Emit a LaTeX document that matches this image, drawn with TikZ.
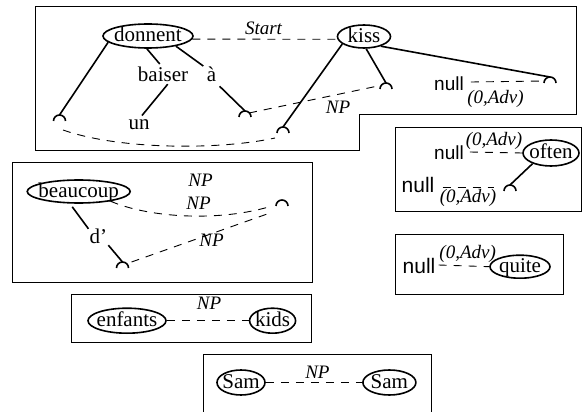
\documentclass[tikz,border=0pt]{standalone}
\usepackage{fontspec}
\setmainfont{Liberation Serif}
\newfontfamily\nullsans{Liberation Sans}
\usetikzlibrary{shapes.geometric}
\newcommand\hk[1]{\draw[hookline] (#1) ++(-6pt,-6pt) arc[start angle=180,end angle=0,x radius=6pt,y radius=6pt];}
\newcommand\ew[1]{\makebox[0pt]{#1}}
\begin{document}
\begin{tikzpicture}[x=1pt,y=-1pt,
  ell/.style={ellipse, draw, line width=1.6pt, inner sep=0pt, text height=13pt, text depth=1pt, font=\fontsize{21}{24}\selectfont},
  word/.style={inner sep=1pt, text height=13pt, text depth=1pt, font=\fontsize{21}{24}\selectfont},
  lab/.style={inner sep=0pt, text height=13pt, text depth=4pt, font=\fontsize{19}{22}\selectfont\itshape},
  nul/.style={inner sep=0pt, text height=13pt, text depth=4pt, font=\nullsans\fontsize{19}{22}\selectfont},
  nulbig/.style={inner sep=0pt, text height=14pt, text depth=4pt, font=\nullsans\fontsize{21}{24}\selectfont},
  tree/.style={line width=1.6pt},
  dline/.style={line width=0.9pt, dash pattern=on 8pt off 7pt},
  frame/.style={line width=0.9pt},
  hookline/.style={line width=1.6pt}]
\useasboundingbox (0,0) rectangle (582,412);
\clip (0,0) rectangle (582,412);

% frames
\draw[frame] (35.6,6.7) -- (576,6.7) -- (576,114.3) -- (359.3,114.3) -- (359.3,150) -- (35.6,150) -- cycle;
\draw[frame] (395,127) rectangle (581,211);
\draw[frame] (12,162.7) rectangle (312,282.7);
\draw[frame] (395.3,234.3) rectangle (563.5,294.3);
\draw[frame] (71.6,294.3) rectangle (311.8,342.3);
\draw[frame] (203.4,354.3) rectangle (431.7,430);

% top box
\node[ell, minimum width=90pt, minimum height=24pt] (donnent) at (148,36) {\ew{donnent}};
\node[ell, minimum width=53pt, minimum height=23pt] (kiss) at (364,36.5) {\ew{kiss}};
\node[lab] (start) at (263.5,30) {Start};
\node[word] (baiser) at (163,76) {baiser};
\node[word] (a) at (211.6,76) {à};
\node[word] (un) at (139,123.7) {un};
\node[lab] (np1) at (338,109) {NP};
\node[nul] (null1) at (449,86) {null};
\node[lab] (adv1) at (495.5,99) {(0,Adv)};

\coordinate (h1) at (59.5,115);
\coordinate (h2) at (245,111);
\coordinate (h3) at (283,127);
\coordinate (h4) at (386,83);
\coordinate (h5) at (550,77);
\hk{h1}\hk{h2}\hk{h3}\hk{h4}\hk{h5}

\draw[tree] (donnent.189) -- (h1);
\draw[tree, shorten >=5pt] (donnent.265) -- (baiser.north);
\draw[tree, shorten >=3pt] (donnent.-20) -- (a.north west);
\draw[tree, shorten <=3pt] (a.south east) -- (h2);
\draw[tree] (baiser.-60) -- (un.70);
\draw[tree] (kiss.199) -- (h3);
\draw[tree] (kiss.280) -- (h4);
\draw[tree] (kiss.-30) -- (h5);

\draw[dline] (donnent.-4) -- (kiss.186);
\draw[dline] ([xshift=7pt,yshift=4pt]null1.east) -- ([shift={(-6pt,-4pt)}]h5);
\draw[dline] ([shift={(4pt,-2pt)}]h2) -- ([shift={(-8pt,-3pt)}]h4);
\draw[dline] ([shift={(3.5pt,-15pt)}]h1) .. controls (120,150) and (220,150) .. ([shift={(-8pt,-11pt)}]h3);

% often box
\node[ell, minimum width=56pt, minimum height=26pt] (often) at (551,153) {\ew{often}};
\node[nul] (null2) at (449,155) {null};
\node[lab] (adv2) at (494,141) {(0,Adv)};
\node[nulbig] (null3) at (418,188) {null};
\node[lab] (adv3) at (468,198) {(0,Adv)};
\coordinate (h6) at (510,185);
\hk{h6}
\draw[tree] (often.210) -- (h6);
\draw[dline] ([xshift=6pt,yshift=3pt]null2.east) -- (often.west);
\draw[dline] ([xshift=8pt,yshift=1pt]null3.east) -- ([shift={(-16pt,-2pt)}]h6);

% quite box
\node[ell, minimum width=60pt, minimum height=23pt] (quite) at (520,266.7) {\ew{quite}};
\node[nulbig] (null4) at (419,268) {null};
\node[lab] (adv4) at (467.7,254) {(0,Adv)};
\draw[dline] ([xshift=3pt,yshift=3pt]null4.east) -- (quite.west);

% beaucoup box
\node[ell, minimum width=103pt, minimum height=23pt] (beaucoup) at (78.7,191.5) {\ew{beaucoup}};
\node[lab] (npb1) at (200.5,182) {NP};
\node[lab] (npb2) at (198.6,205) {NP};
\node[lab] (npb3) at (211.6,242) {NP};
\node[word] (dq) at (98.4,237) {d’};
\coordinate (h7) at (122.5,262);
\coordinate (h8) at (282,200);
\hk{h7}\hk{h8}
\draw[tree, shorten <=4pt] (beaucoup.234) -- (dq.north west);
\draw[tree] (dq.south east) -- (h7);
\draw[dline] (beaucoup.-17) .. controls (150,218) and (220,222) .. ([shift={(-10pt,-6pt)}]h8);
\draw[dline] ([shift={(9pt,0pt)}]h7) -- ([shift={(-12pt,-13pt)}]h8);

% enfants box
\node[ell, minimum width=78pt, minimum height=25pt] (enfants) at (127,320.7) {\ew{enfants}};
\node[ell, minimum width=46pt, minimum height=25pt] (kids) at (272.6,320.7) {\ew{kids}};
\node[lab] (npe) at (209,305) {NP};
\draw[dline] (enfants.east) -- (kids.west);

% Sam box
\node[ell, minimum width=48pt, minimum height=25pt] (sam1) at (241,382.5) {\ew{Sam}};
\node[ell, minimum width=53pt, minimum height=25pt] (sam2) at (389.4,382.5) {\ew{Sam}};
\node[lab] (nps) at (317.4,374) {NP};
\draw[dline] (sam1.east) -- (sam2.west);
\end{tikzpicture}
\end{document}
